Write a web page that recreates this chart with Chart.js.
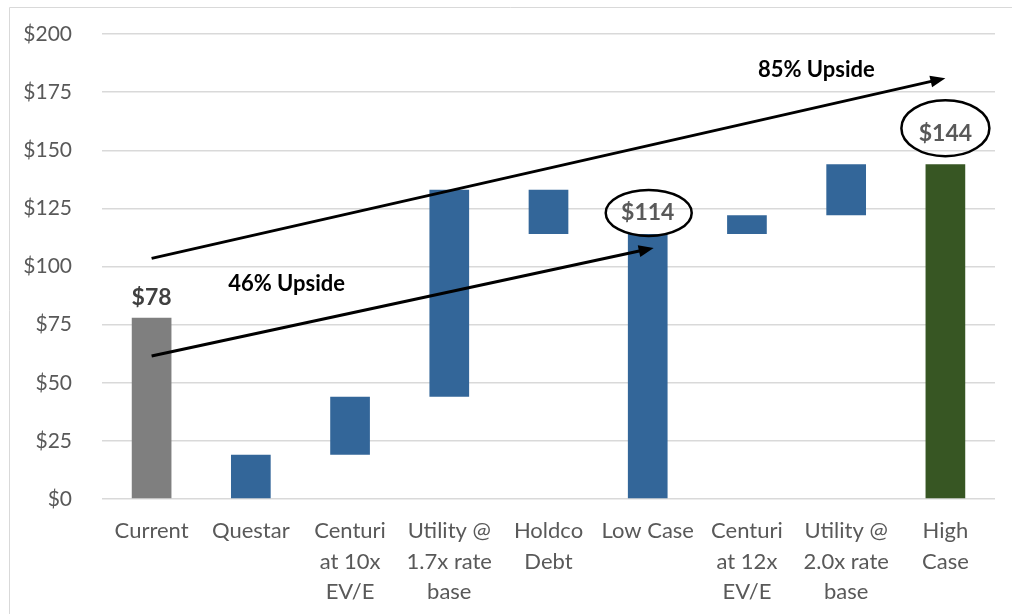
<!DOCTYPE html>
<html>
<head>
<meta charset="utf-8">
<script src="https://cdn.jsdelivr.net/npm/chart.js@4"></script>
<style>
  body { margin: 0; background: #fff; }
  #wrap { width: 1012px; height: 614px; position: relative; }
</style>
</head>
<body>
<div id="wrap"><canvas id="valuationChart"></canvas></div>
<script>
const categories = [
  ["Current"],
  ["Questar"],
  ["Centuri", "at 10x", "EV/E"],
  ["Utility @", "1.7x rate", "base"],
  ["Holdco", "Debt"],
  ["Low Case"],
  ["Centuri", "at 12x", "EV/E"],
  ["Utility @", "2.0x rate", "base"],
  ["High", "Case"],
];
const barStart = [0, 0, 19, 44, 133, 0, 114, 122, 0];
const barEnd = [78, 19, 44, 133, 114, 114, 122, 144, 144];
const barColors = ["#7f7f7f", "#336699", "#336699", "#336699", "#336699", "#336699", "#336699", "#336699", "#375623"];
const yTicks = [0, 25, 50, 75, 100, 125, 150, 175, 200];

// callouts: [category index, value]
const plainLabels = [{ text: "$78", at: [0, 78] }];
const circledLabels = [
  { text: "$114", at: [5, 114] },
  { text: "$144", at: [8, 144] },
];
const arrows = [
  { text: "46% Upside", from: [0, 61.5], to: [5.06, 108] },
  { text: "85% Upside", from: [0, 103.5], to: [8.04, 181] },
];

const ctx = document.getElementById("valuationChart");

const annotations = {
  id: "annotations",
  beforeDraw(chart) {
    const c = chart.ctx;
    c.save();
    c.strokeStyle = "#d9d9d9";
    c.lineWidth = 1;
    c.beginPath();
    c.moveTo(9.5, 614);
    c.lineTo(9.5, 7.5);
    c.lineTo(1012, 7.5);
    c.stroke();
    c.restore();
  },
  afterDatasetsDraw(chart) {
    const x = chart.scales.x;
    const y = chart.scales.y;
    const c = chart.ctx;
    const px = (i) => {
      const lo = Math.floor(i);
      const hi = Math.min(lo + 1, categories.length - 1);
      const a = x.getPixelForValue(lo);
      const b = x.getPixelForValue(hi);
      return a + (b - a) * (i - lo);
    };
    c.save();
    c.textAlign = "center";
    c.textBaseline = "middle";

    plainLabels.forEach((l) => {
      c.font = "bold 23px Lato";
      c.fillStyle = "#404040";
      c.fillText(l.text, px(l.at[0]), y.getPixelForValue(l.at[1]) - 20);
    });

    circledLabels.forEach((l, i) => {
      const cx = px(l.at[0]);
      const cy = y.getPixelForValue(l.at[1]) - (i === 0 ? 21 : 31);
      c.font = "bold 23px Lato";
      c.fillStyle = "#595959";
      c.fillText(l.text, cx, cy);
      c.beginPath();
      c.strokeStyle = "#000";
      c.lineWidth = 2.5;
      if (i === 0) {
        c.ellipse(cx + 1, cy, 43, 23, 0, 0, Math.PI * 2);
      } else {
        c.ellipse(cx, cy - 5, 44, 28, 0, 0, Math.PI * 2);
      }
      c.stroke();
    });

    arrows.forEach((a, i) => {
      const x1 = px(a.from[0]);
      const y1 = y.getPixelForValue(a.from[1]);
      const x2 = px(a.to[0]);
      const y2 = y.getPixelForValue(a.to[1]);
      const ang = Math.atan2(y2 - y1, x2 - x1);
      c.strokeStyle = "#000";
      c.fillStyle = "#000";
      c.lineWidth = 3;
      c.beginPath();
      c.moveTo(x1, y1);
      c.lineTo(x2 - 10 * Math.cos(ang), y2 - 10 * Math.sin(ang));
      c.stroke();
      c.beginPath();
      c.moveTo(x2, y2);
      c.lineTo(x2 - 15 * Math.cos(ang) + 6 * Math.sin(ang), y2 - 15 * Math.sin(ang) - 6 * Math.cos(ang));
      c.lineTo(x2 - 15 * Math.cos(ang) - 6 * Math.sin(ang), y2 - 15 * Math.sin(ang) + 6 * Math.cos(ang));
      c.closePath();
      c.fill();
      c.font = "bold 22px Lato";
      c.fillStyle = "#000";
      if (i === 0) {
        c.fillText(a.text, px(1.36), y.getPixelForValue(92.5));
      } else {
        c.fillText(a.text, px(6.7), y.getPixelForValue(184.5));
      }
    });
    c.restore();
  },
};

new Chart(ctx, {
  type: "bar",
  data: {
    labels: categories,
    datasets: [
      {
        data: barStart.map((s, i) => [s, barEnd[i]]),
        backgroundColor: barColors,
        borderWidth: 0,
        barPercentage: 0.8,
        categoryPercentage: 0.5,
      },
    ],
  },
  options: {
    responsive: true,
    maintainAspectRatio: false,
    animation: false,
    layout: {
      padding: { top: 34, right: 17, bottom: 0, left: 0 },
    },
    plugins: {
      legend: { display: false },
      tooltip: { enabled: false },
    },
    scales: {
      x: {
        afterFit(scale) {
          scale.height = 115;
          scale.paddingTop = 0;
          scale.paddingBottom = 0;
        },
        grid: { display: false, drawTicks: false },
        border: { display: false },
        ticks: {
          color: "#595959",
          font: { family: "Lato", size: 22, lineHeight: 1.38 },
          padding: 17,
          maxRotation: 0,
          autoSkip: false,
        },
      },
      y: {
        min: 0,
        max: 200,
        afterFit(scale) {
          scale.width = 102;
          scale.paddingTop = 0;
          scale.paddingBottom = 0;
        },
        afterBuildTicks(scale) {
          scale.ticks = yTicks.map((v) => ({ value: v }));
        },
        grid: { color: "#d9d9d9", drawTicks: false, lineWidth: 1.5 },
        border: { display: false },
        ticks: {
          color: "#595959",
          font: { family: "Lato", size: 21 },
          padding: 30,
          callback: (v) => "$" + v,
        },
      },
    },
  },
  plugins: [annotations],
});
</script>
</body>
</html>
